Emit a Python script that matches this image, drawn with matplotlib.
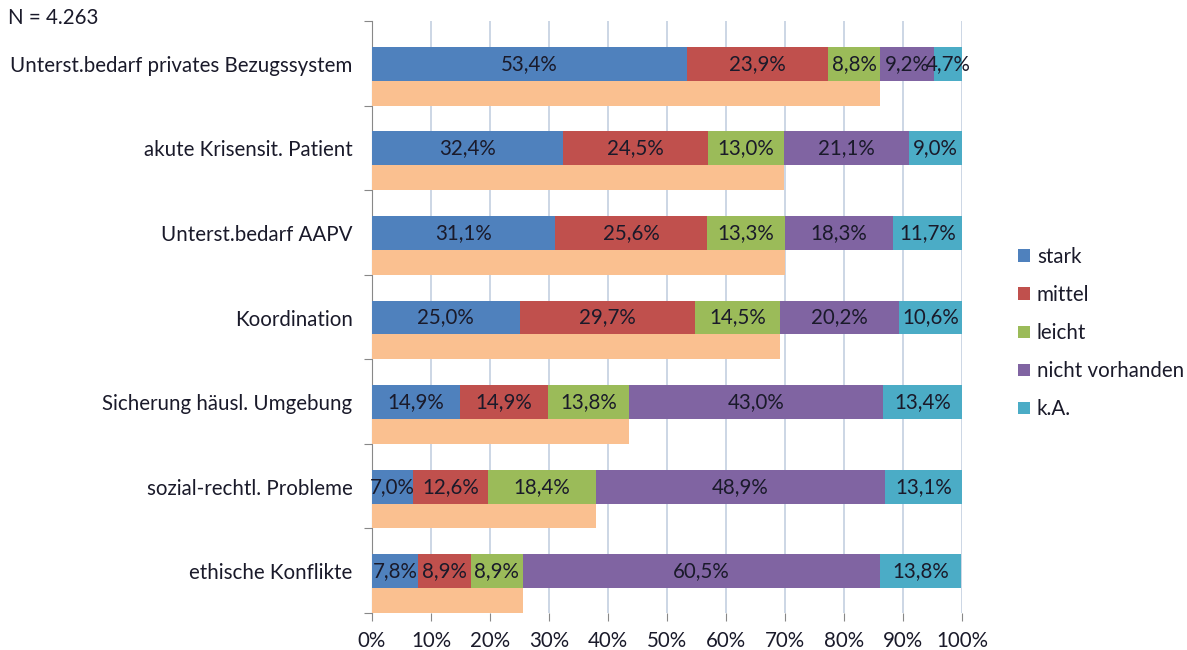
import matplotlib.pyplot as plt
import numpy as np

plt.rcParams['font.family'] = ['Lato', 'DejaVu Sans']

# -----------------------------
# Data
# -----------------------------
categories = [
    "Unterst.bedarf privates Bezugssystem",
    "akute Krisensit. Patient",
    "Unterst.bedarf AAPV",
    "Koordination",
    "Sicherung häusl. Umgebung",
    "sozial-rechtl. Probleme",
    "ethische Konflikte",
]
stark = [53.4, 32.4, 31.1, 25.0, 14.9, 7.0, 7.8]
mittel = [23.9, 24.5, 25.6, 29.7, 14.9, 12.6, 8.9]
leicht = [8.8, 13.0, 13.3, 14.5, 13.8, 18.4, 8.9]
nicht_vorhanden = [9.2, 21.1, 18.3, 20.2, 43.0, 48.9, 60.5]
ka = [4.7, 9.0, 11.7, 10.6, 13.4, 13.1, 13.8]
# orange bar (stark + mittel + leicht)
orange = [86.1, 69.9, 70.0, 69.2, 43.6, 38.0, 25.6]

series_names = ["stark", "mittel", "leicht", "nicht vorhanden", "k.A."]
series = [stark, mittel, leicht, nicht_vorhanden, ka]
colors = ["#4f81bd", "#c0504d", "#9bbb59", "#8064a2", "#4bacc6"]
orange_color = "#fac090"
text_color = "#1a1a2a"
fs = 14.8

# -----------------------------
# Figure
# -----------------------------
fig = plt.figure(figsize=(11.87, 6.5), dpi=100)
ax = fig.add_axes([372 / 1187, 1 - 613 / 650, 590 / 1187, 592 / 650])

n = len(categories)
y_center = np.arange(n) + 0.506
left = np.zeros(n)
handles = []
for name, vals, col in zip(series_names, series, colors):
    vals = np.array(vals)
    h = ax.barh(y_center, vals, left=left, height=0.40, color=col, label=name, zorder=3)
    handles.append(h)
    for yc, l, v in zip(y_center, left, vals):
        ax.text(l + v / 2, yc, f"{v:.1f}%".replace(".", ","), ha="center", va="center",
                fontsize=fs, color=text_color, zorder=4)
    left += vals

ax.barh(np.arange(n) + 0.853, orange, height=0.294, color=orange_color, zorder=3)

ax.set_xlim(0, 100)
ax.set_ylim(n, 0)
ax.set_xticks(np.arange(0, 101, 10))
ax.set_xticklabels([f"{t}%" for t in range(0, 101, 10)], fontsize=fs, color=text_color)
ax.set_yticks(np.arange(n + 1))
ax.set_yticklabels([])
ax.set_yticks(y_center, minor=True)
ax.set_yticklabels(categories, minor=True, fontsize=fs, color=text_color)
ax.tick_params(axis="y", which="minor", length=0, pad=14)
ax.tick_params(axis="y", which="major", length=6, color="#888888")
ax.tick_params(axis="x", length=6, color="#888888", pad=7)

ax.grid(axis="x", color="#c3cfe0", linewidth=1.2, zorder=0)
for s in ["top", "right", "bottom"]:
    ax.spines[s].set_visible(False)
ax.spines["left"].set_color("#888888")

fig.text(8 / 1187, 1 - 18 / 650, "N = 4.263", fontsize=fs, color=text_color, va="center", ha="left")

leg = fig.legend(handles=handles, labels=series_names, loc="center left",
                 bbox_to_anchor=(1000 / 1187, 1 - 333 / 650), frameon=False,
                 fontsize=fs, handlelength=0.55, handleheight=0.55, handletextpad=0.35,
                 labelspacing=0.88, labelcolor=text_color)

plt.savefig("out.png", dpi=100)
